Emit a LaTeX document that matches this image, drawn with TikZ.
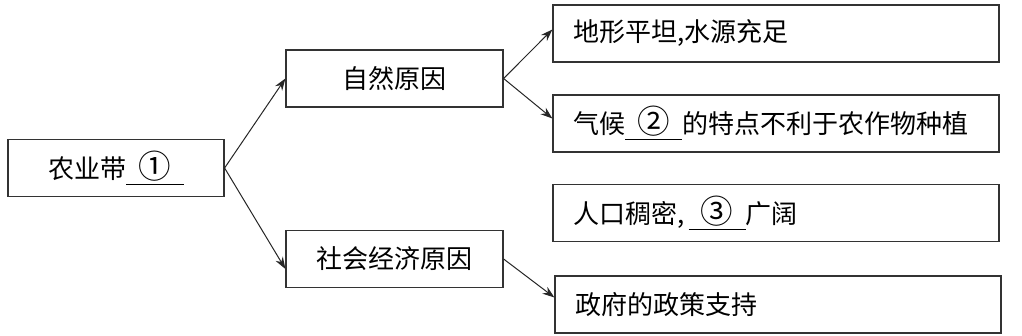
\documentclass[tikz,border=0pt]{standalone}
\usepackage{fontspec}
\setmainfont{Noto Sans CJK SC}
\usepackage{tikz}
\usetikzlibrary{arrows.meta,positioning}
\tikzset{
  box/.style={draw=black!80, line width=0.6pt, minimum height=28.5pt, inner sep=0pt},
  rootbox/.style={box, minimum width=108pt},
  midbox/.style={box, minimum width=108.5pt},
  leafbox/.style={box, minimum width=223pt, text width=203pt, align=left},
  link/.style={-{Stealth[length=6pt,width=4.2pt]}, line width=0.5pt, black!85},
}
\newcommand{\blank}[1]{\underline{\makebox[2.2em]{\scalebox{1.25}{#1}}}}

\begin{document}
\begin{tikzpicture}[x=0.5pt, y=-0.5pt, font=\fontsize{13}{15}\selectfont]
    \useasboundingbox (0,0) rectangle (1022,336);
    % left and middle column
    \node[rootbox] (belt) at (116,168) {农业带\blank{①}};
    \node[midbox] (nat) at (394.5,78.5) {自然原因};
    \node[midbox] (soc) at (394.5,259) {社会经济原因};
    % right column
    \node[leafbox] (land) at (776,33.5) {地形平坦,水源充足};
    \node[leafbox] (clim) at (776,123.5) {气候\blank{②}的特点不利于农作物种植};
    \node[leafbox] (pop) at (776,213) {人口稠密,\,\blank{③}广阔};
    \node[leafbox] (gov) at (778,304.5) {政府的政策支持};
    % arrows
    \draw[link] (belt.east) -- (nat.west);
    \draw[link] (belt.east) -- ([yshift=-5pt]soc.west);
    \draw[link] (nat.east) -- ([yshift=2pt]land.west);
    \draw[link] (nat.east) -- ([yshift=2.5pt]clim.west);
    \draw[link] (soc.east) -- ([yshift=3.5pt]gov.west);
  \end{tikzpicture}
\end{document}
